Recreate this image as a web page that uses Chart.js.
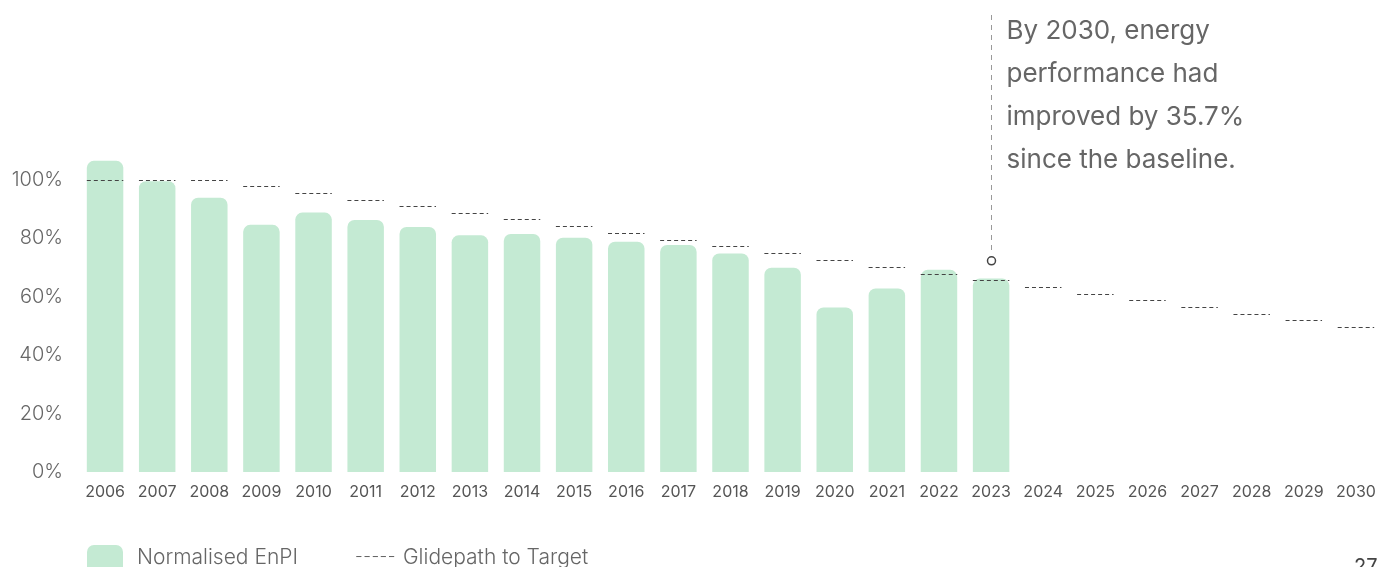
<!DOCTYPE html>
<html>
<head>
<meta charset="utf-8">
<script src="https://cdn.jsdelivr.net/npm/chart.js@4"></script>
<style>
  html, body { margin: 0; padding: 0; background: #fff; overflow: hidden; }
  #wrap { position: relative; width: 1378px; height: 567px; overflow: hidden; }
  #legend { position: absolute; left: 87px; top: 544px; font-family: Inter, sans-serif; font-size: 21px; color: #666; font-weight: 300; }
  #legend .item { position: absolute; white-space: nowrap; top: 0; }
  #legend .dashes { font-size: 17px; top: 2px; letter-spacing: 0.5px; }
  #legend .swatch { position: absolute; left: 0; top: 1px; width: 36px; height: 30px; border-radius: 7px; background: #c4ead3; }
  #pageNo { position: absolute; left: 1354px; top: 554px; font-family: Inter, sans-serif; font-size: 20px; color: #444; }
</style>
</head>
<body>
<div id="wrap">
  <canvas id="chart" width="1382" height="567"></canvas>
  <div id="legend">
    <div class="swatch"></div>
    <div class="item" style="left:50px">Normalised EnPI</div>
    <div class="item dashes" style="left:268px">-----</div>
    <div class="item" style="left:316px">Glidepath to Target</div>
  </div>
  <div id="pageNo">27</div>
</div>
<script>
// Data
const years = ['2006','2007','2008','2009','2010','2011','2012','2013','2014','2015','2016','2017','2018',
  '2019','2020','2021','2022','2023','2024','2025','2026','2027','2028','2029','2030'];
const enpi = [106.5, 99.5, 93.9, 84.6, 88.8, 86.3, 83.9, 81.0, 81.5, 80.2, 78.8, 77.7, 74.8,
  69.9, 56.3, 62.8, 69.2, 66.2, null, null, null, null, null, null, null];
const glidepath = [100, 100, 100, 97.9, 95.5, 93.2, 91.1, 88.7, 86.6, 84.1, 81.9, 79.4, 77.2,
  74.8, 72.5, 70.3, 67.8, 65.6, 63.4, 61.0, 58.8, 56.5, 54.1, 51.9, 49.6];
const yTicks = [0, 20, 40, 60, 80, 100];
const noteLines = ['By 2030, energy', 'performance had', 'improved by 35.7%', 'since the baseline.'];
const noteIndex = 17;   // annotation sits above 2023
const noteMarker = 72.3;

// draws the glidepath as short dashed segments, one per year
const glidePlugin = {
  id: 'glide',
  afterDatasetsDraw(chart) {
    const { ctx, scales: { x, y } } = chart;
    const half = x.width / years.length * 0.7 / 2;
    ctx.save();
    ctx.strokeStyle = '#444';
    ctx.lineWidth = 1;
    ctx.setLineDash([4, 3]);
    glidepath.forEach((v, i) => {
      const cx = x.getPixelForValue(i);
      const py = Math.round(y.getPixelForValue(v)) + 0.5;
      ctx.beginPath();
      ctx.moveTo(cx - half, py);
      ctx.lineTo(cx + half, py);
      ctx.stroke();
    });
    ctx.restore();
  }
};

// callout line, marker and text
const notePlugin = {
  id: 'note',
  afterDraw(chart) {
    const { ctx, scales: { x, y } } = chart;
    const cx = Math.round(x.getPixelForValue(noteIndex)) + 0.5;
    const my = y.getPixelForValue(noteMarker);
    ctx.save();
    ctx.strokeStyle = '#999';
    ctx.lineWidth = 1;
    ctx.setLineDash([5, 5]);
    ctx.beginPath();
    ctx.moveTo(cx, 15);
    ctx.lineTo(cx, my - 6);
    ctx.stroke();
    ctx.setLineDash([]);
    ctx.strokeStyle = '#444';
    ctx.lineWidth = 1.5;
    ctx.beginPath();
    ctx.arc(cx, my, 4, 0, Math.PI * 2);
    ctx.stroke();
    ctx.fillStyle = '#666';
    ctx.font = '400 26px Inter, sans-serif';
    ctx.textBaseline = 'middle';
    noteLines.forEach((t, i) => ctx.fillText(t, cx + 15, 31 + i * 43));
    ctx.restore();
  }
};

new Chart(document.getElementById('chart'), {
  type: 'bar',
  data: {
    labels: years,
    datasets: [{
      label: 'Normalised EnPI',
      data: enpi,
      backgroundColor: '#c4ead3',
      borderRadius: 7,
      borderSkipped: 'bottom',
      categoryPercentage: 1,
      barPercentage: 0.7
    }]
  },
  options: {
    responsive: false,
    animation: false,
    layout: { padding: { top: 63, bottom: 65, right: 0, left: 0 } },
    plugins: { legend: { display: false }, tooltip: { enabled: false } },
    scales: {
      x: {
        grid: { display: false },
        border: { display: false },
        ticks: { color: '#555', font: { family: 'Inter', size: 16 }, padding: 3, maxRotation: 0, autoSkip: false },
        afterFit(s) { s.height = 30; }
      },
      y: {
        min: 0,
        max: 140,
        afterBuildTicks(s) { s.ticks = yTicks.map(v => ({ value: v })); },
        grid: { display: false },
        border: { display: false },
        ticks: { color: '#666', font: { family: 'Inter', size: 20, weight: 300 }, padding: 8, callback: v => v + '%' },
        afterFit(s) { s.width = 79; }
      }
    }
  },
  plugins: [glidePlugin, notePlugin]
});
</script>
</body>
</html>
